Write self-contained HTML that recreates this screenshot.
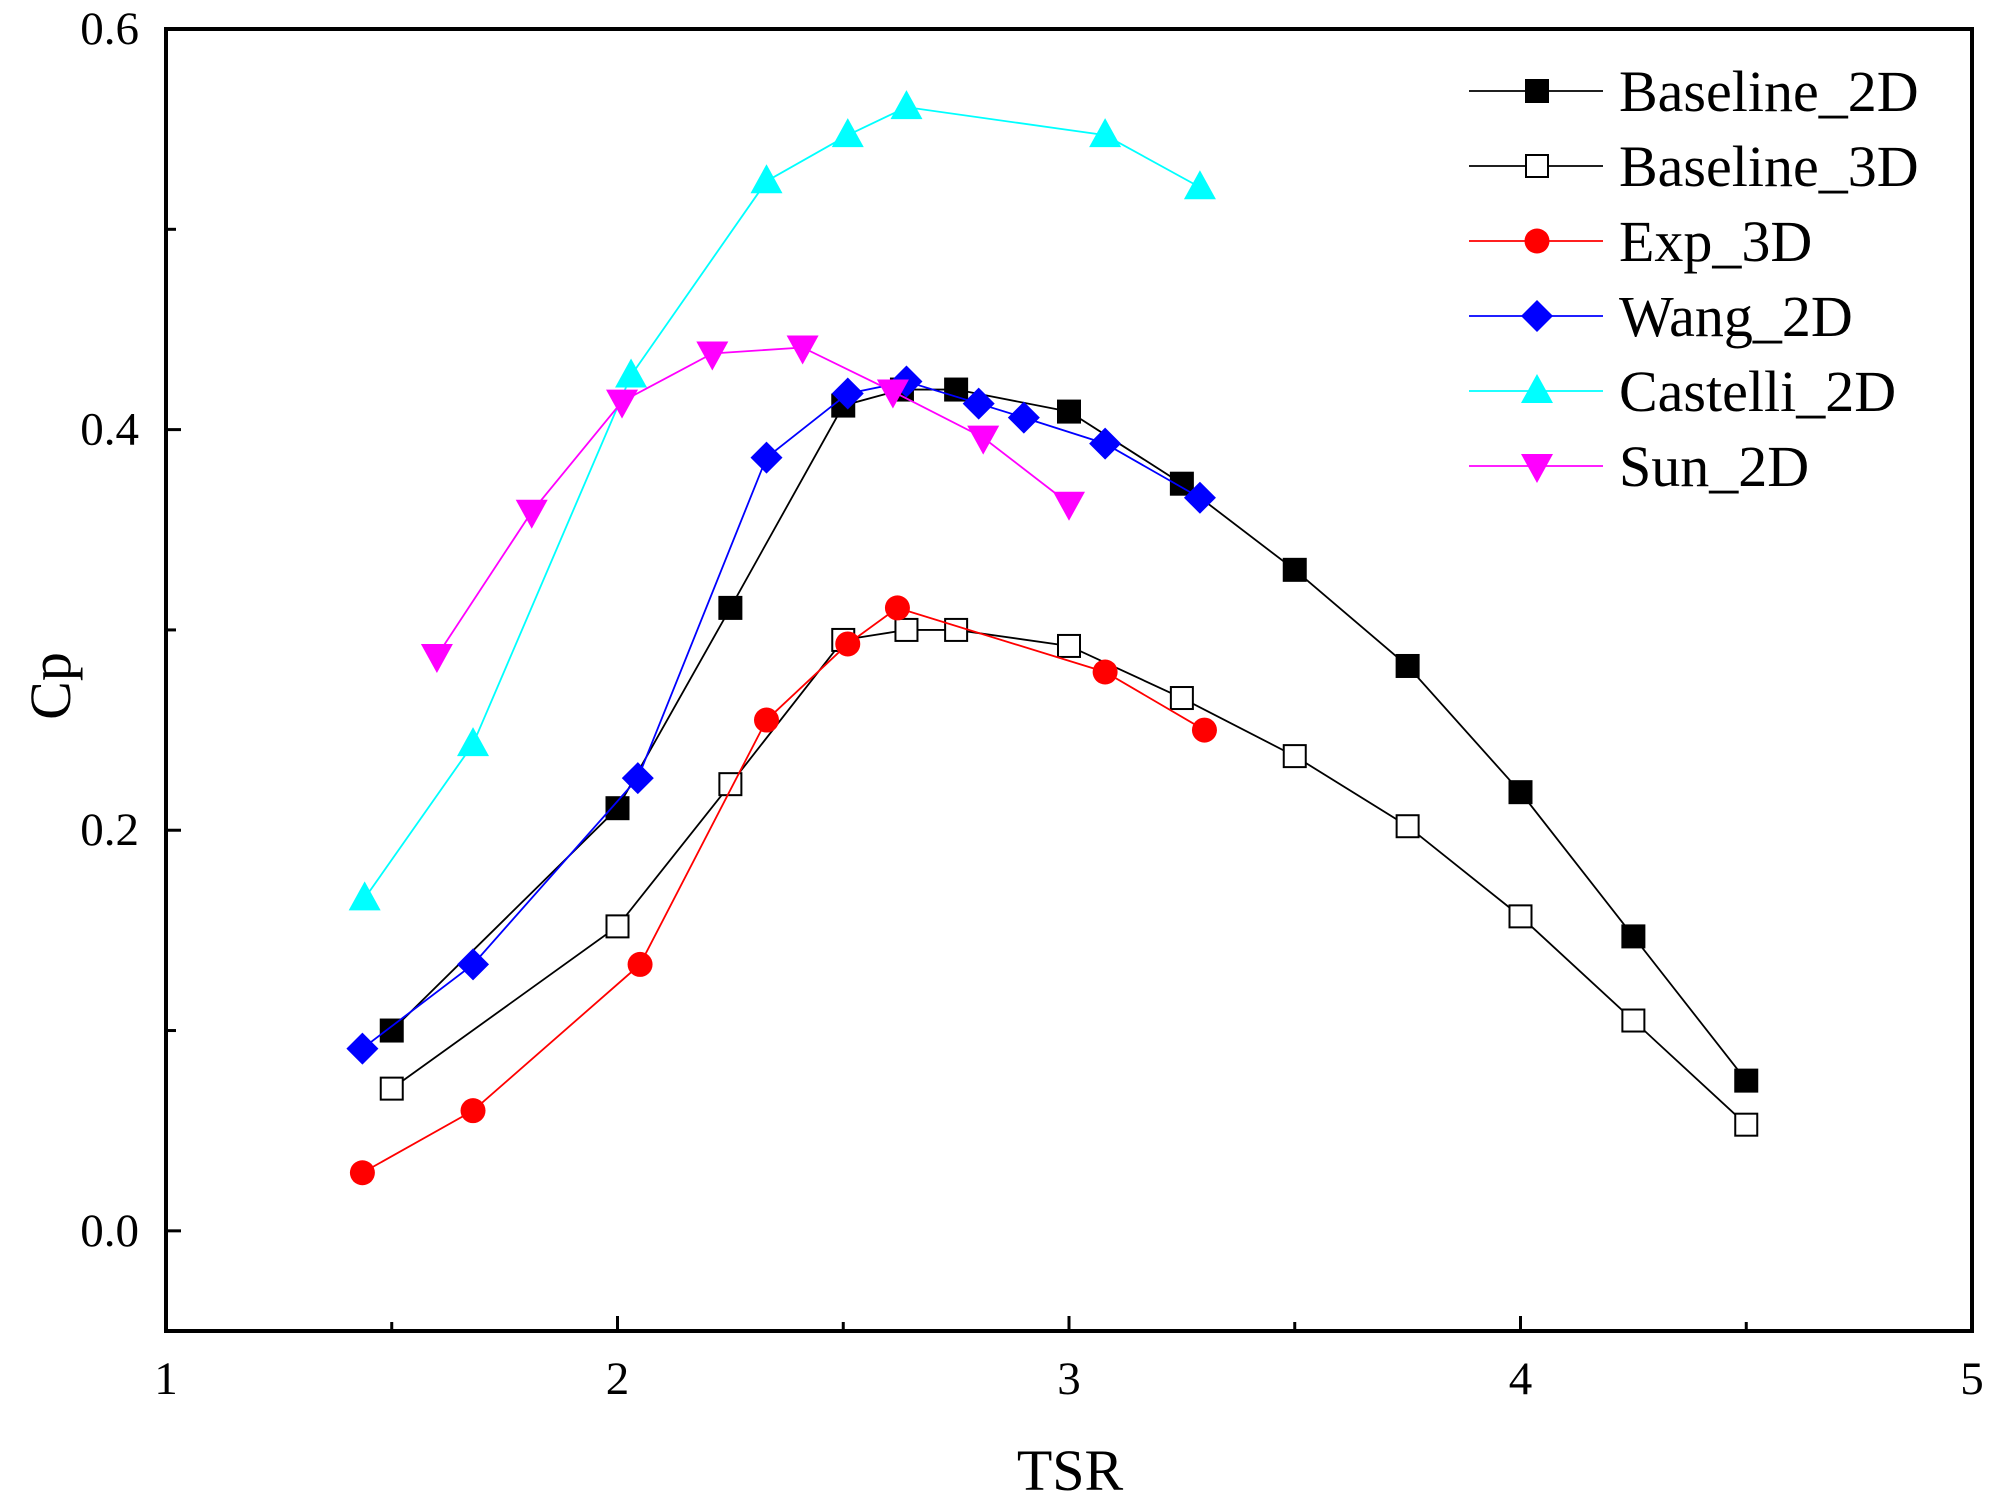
<!DOCTYPE html>
<html><head><meta charset="utf-8"><style>
html,body{margin:0;padding:0;background:#fff}
svg{display:block;font-family:"Liberation Serif",serif}
</style></head><body>
<svg id="chart" width="1991" height="1506" viewBox="0 0 1991 1506">
<g id="plot"></g>
<g id="axes"></g>
<g id="legend"></g>
</svg>
<script>
const xTicks=[1,2,3,4,5];
const xMinor=[1.5,2.5,3.5,4.5];
const yTicks=[0.0,0.2,0.4,0.6];
const yTickLabels=["0.0","0.2","0.4","0.6"];
const yMinor=[0.1,0.3,0.5];
const seriesNames=["Baseline_2D","Baseline_3D","Exp_3D","Wang_2D","Castelli_2D","Sun_2D"];
const baseline2dX=[1.5,2,2.25,2.5,2.63,2.75,3,3.25,3.5,3.75,4,4.25,4.5];
const baseline2dY=[0.100,0.211,0.311,0.412,0.420,0.420,0.409,0.373,0.330,0.282,0.219,0.147,0.075];
const baseline3dX=[1.5,2,2.25,2.5,2.64,2.75,3,3.25,3.5,3.75,4,4.25,4.5];
const baseline3dY=[0.071,0.152,0.223,0.295,0.300,0.300,0.292,0.266,0.237,0.202,0.157,0.105,0.053];
const exp3dX=[1.435,1.68,2.05,2.33,2.51,2.62,3.08,3.30];
const exp3dY=[0.029,0.060,0.133,0.255,0.293,0.311,0.279,0.250];
const wangX=[1.435,1.68,2.045,2.33,2.51,2.64,2.80,2.90,3.08,3.29];
const wangY=[0.091,0.133,0.226,0.386,0.418,0.424,0.413,0.406,0.393,0.366];
const castelliX=[1.44,1.68,2.03,2.33,2.51,2.64,3.08,3.29];
const castelliY=[0.166,0.243,0.427,0.524,0.547,0.561,0.547,0.521];
const sunX=[1.60,1.81,2.01,2.21,2.41,2.61,2.81,3.00];
const sunY=[0.287,0.359,0.414,0.438,0.441,0.419,0.396,0.363];

const L=166,R=1972,T=29,B=1331;
const X0=1,X1=5,Y0=-0.05,Y1=0.6;
const sx=v=>L+(v-X0)/(X1-X0)*(R-L);
const sy=v=>B-(v-Y0)/(Y1-Y0)*(B-T);
const NS="http://www.w3.org/2000/svg";
function mk(tag,attrs,parent){const e=document.createElementNS(NS,tag);for(const k in attrs)e.setAttribute(k,attrs[k]);parent.appendChild(e);return e;}
const plot=document.getElementById('plot'),axes=document.getElementById('axes'),leg=document.getElementById('legend');

const series=[
 {x:baseline2dX,y:baseline2dY,color:"#000",marker:"square",fill:"#000"},
 {x:baseline3dX,y:baseline3dY,color:"#000",marker:"square",fill:"#fff"},
 {x:exp3dX,y:exp3dY,color:"#f00",marker:"circle",fill:"#f00"},
 {x:wangX,y:wangY,color:"#00f",marker:"diamond",fill:"#00f"},
 {x:castelliX,y:castelliY,color:"#0ff",marker:"up",fill:"#0ff"},
 {x:sunX,y:sunY,color:"#f0f",marker:"down",fill:"#f0f"}
];
function marker(type,cx,cy,fill,stroke,parent){
 let e;
 if(type==="square") e=mk('rect',{x:cx-11,y:cy-11,width:22,height:22,fill:fill,stroke:"#000","stroke-width":2},parent);
 else if(type==="circle") e=mk('circle',{cx:cx,cy:cy,r:12.5,fill:fill},parent);
 else if(type==="diamond") e=mk('polygon',{points:`${cx},${cy-16} ${cx+16},${cy} ${cx},${cy+16} ${cx-16},${cy}`,fill:fill},parent);
 else if(type==="up") e=mk('polygon',{points:`${cx},${cy-17} ${cx+16},${cy+12} ${cx-16},${cy+12}`,fill:fill},parent);
 else e=mk('polygon',{points:`${cx},${cy+17} ${cx+16},${cy-12} ${cx-16},${cy-12}`,fill:fill},parent);
 return e;
}
series.forEach((s,i)=>{
 const g=mk('g',{},plot);
 
 
 const pts=s.x.map((v,j)=>sx(v)+","+sy(s.y[j])).join(" ");
 const ln=mk('polyline',{points:pts,fill:"none",stroke:s.color,"stroke-width":1.8},g);
 
 
 s.x.forEach((v,j)=>{
  const m=marker(s.marker,sx(v),sy(s.y[j]),s.fill,s.color,g);
  
  
 });
});
const fr=mk('rect',{x:L,y:T,width:R-L,height:B-T,fill:"none",stroke:"#000","stroke-width":4},axes);


xTicks.forEach(v=>{
 mk('line',{x1:sx(v),y1:B,x2:sx(v),y2:B-15,stroke:"#000","stroke-width":3},axes);
 const t=mk('text',{x:sx(v),y:1394,"font-size":47,"text-anchor":"middle"},axes);
 t.textContent=v;
 
 
});
xMinor.forEach(v=>mk('line',{x1:sx(v),y1:B,x2:sx(v),y2:B-9,stroke:"#000","stroke-width":3},axes));
yTicks.forEach((v,i)=>{
 mk('line',{x1:L,y1:sy(v),x2:L+15,y2:sy(v),stroke:"#000","stroke-width":3},axes);
 const t=mk('text',{x:139,y:sy(v)+15,"font-size":47,"text-anchor":"end"},axes);
 t.textContent=yTickLabels[i];
 
 
});
yMinor.forEach(v=>mk('line',{x1:L,y1:sy(v),x2:L+10,y2:sy(v),stroke:"#000","stroke-width":3},axes));
const xt=mk('text',{x:1070,y:1490,"font-size":58,"text-anchor":"middle"},axes);
xt.textContent="TSR";


const yt=mk('text',{x:0,y:0,"font-size":58,"text-anchor":"middle",transform:"translate(70,686) rotate(-90)"},axes);
yt.textContent="Cp";


const rows=[91,166,241,316,391,466];
series.forEach((s,i)=>{
 const g=mk('g',{},leg);
 
 
 mk('line',{x1:1469,y1:rows[i],x2:1603,y2:rows[i],stroke:s.color,"stroke-width":1.8},g);
 marker(s.marker,1537,rows[i],s.fill,s.color,g);
 const t=mk('text',{x:1619,y:rows[i]+20,"font-size":58},g);
 t.textContent=seriesNames[i];
});
</script>
</body></html>
